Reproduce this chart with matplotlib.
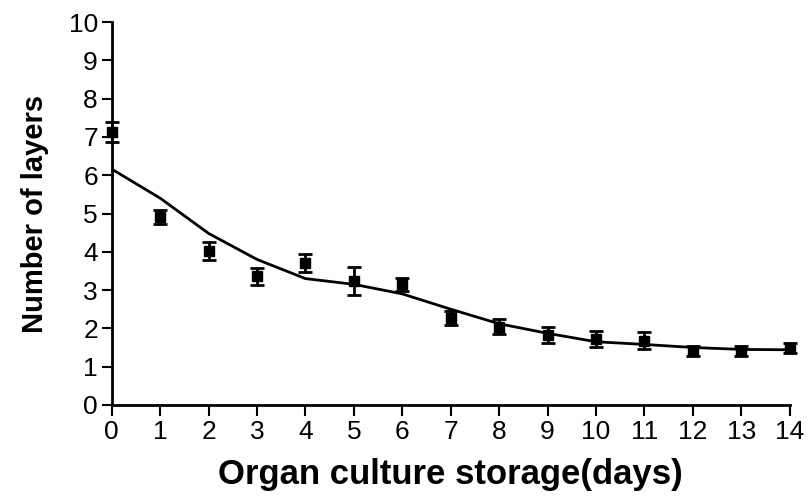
import matplotlib.pyplot as plt

plt.rcParams["font.family"] = ["Liberation Sans", "DejaVu Sans"]

# storage time (days)
days = [0, 1, 2, 3, 4, 5, 6, 7, 8, 9, 10, 11, 12, 13, 14]
# measured number of layers (mean) and error
layers = [7.12, 4.91, 4.02, 3.36, 3.70, 3.24, 3.15, 2.28, 2.04, 1.83, 1.72, 1.68, 1.40, 1.40, 1.49]
errors = [0.26, 0.19, 0.23, 0.22, 0.24, 0.36, 0.17, 0.18, 0.20, 0.20, 0.20, 0.22, 0.13, 0.13, 0.13]
# fitted curve
fit = [6.16, 5.40, 4.48, 3.80, 3.30, 3.15, 2.90, 2.50, 2.12, 1.87, 1.65, 1.58, 1.50, 1.45, 1.44]

fig = plt.figure(figsize=(8.1, 5.03), dpi=100)
ax = fig.add_axes([0.138, 0.195, 0.837, 0.761])

ax.plot(days, fit, color="black", linewidth=2)
ax.errorbar(days, layers, yerr=errors, fmt="s", color="black", markersize=7,
            capsize=5, elinewidth=2, capthick=2, clip_on=False, zorder=3)

ax.set_xlim(0, 14)
ax.set_ylim(0, 10)
ax.set_xticks(range(0, 15))
ax.set_yticks(range(0, 11))
ax.spines["top"].set_visible(False)
ax.spines["right"].set_visible(False)
ax.spines["left"].set_linewidth(2)
ax.spines["bottom"].set_linewidth(2)
ax.tick_params(axis="both", direction="out", width=1.5, labelsize=19)
ax.tick_params(axis="x", length=8, pad=3)
ax.tick_params(axis="y", length=7, pad=3)

ax.set_xlabel("Organ culture storage(days)", fontsize=25, fontweight="bold", labelpad=10)
ax.set_ylabel("Number of layers", fontsize=21, fontweight="bold", labelpad=14)

fig.savefig("out.png", dpi=100)
